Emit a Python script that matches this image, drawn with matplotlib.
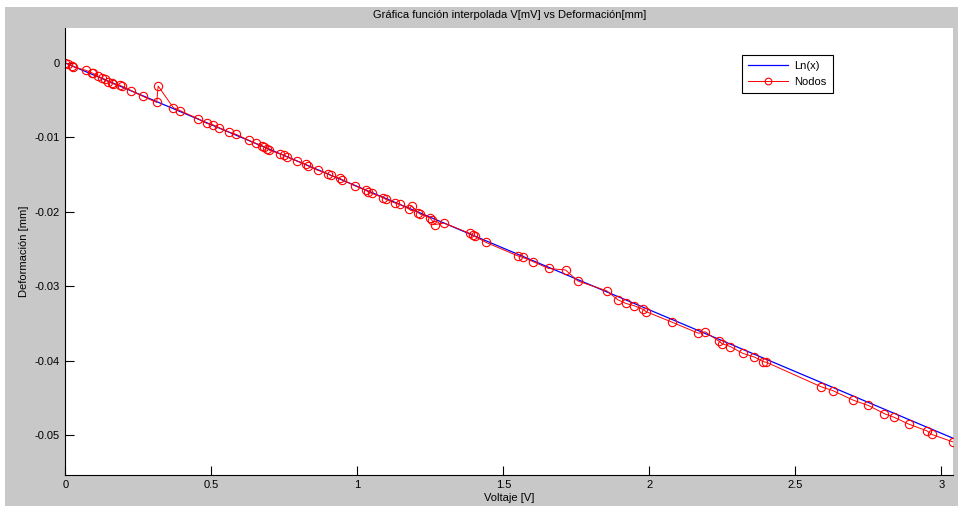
import matplotlib
matplotlib.use("Agg")
import matplotlib.pyplot as plt
import numpy as np
from matplotlib.patches import Rectangle

plt.rcParams['font.family'] = ['Liberation Sans', 'DejaVu Sans']
plt.rcParams['axes.unicode_minus'] = False

# interpolated function Ln(x)
ln_v = np.array([0.0, 3.04])
ln_d = np.array([0.0, -0.0504])

# nodes: voltaje [V]
nodos_v = np.array([0.000, 0.009, 0.023, 0.028, 0.071, 0.090, 0.095, 0.113, 0.125, 0.136,
                    0.147, 0.159, 0.165, 0.187, 0.193, 0.225, 0.267, 0.313, 0.318, 0.370,
                    0.393, 0.455, 0.484, 0.505, 0.527, 0.562, 0.586, 0.629, 0.652, 0.673,
                    0.682, 0.692, 0.698, 0.735, 0.750, 0.758, 0.795, 0.823, 0.830, 0.864,
                    0.901, 0.909, 0.941, 0.949, 0.992, 1.029, 1.038, 1.049, 1.089, 1.097,
                    1.129, 1.146, 1.177, 1.186, 1.209, 1.215, 1.249, 1.255, 1.266, 1.297,
                    1.386, 1.395, 1.403, 1.441, 1.549, 1.566, 1.603, 1.655, 1.713, 1.756,
                    1.854, 1.892, 1.920, 1.948, 1.979, 1.989, 2.077, 2.168, 2.191, 2.240,
                    2.249, 2.278, 2.320, 2.360, 2.389, 2.401, 2.589, 2.628, 2.699, 2.750,
                    2.805, 2.839, 2.888, 2.950, 2.968, 3.040])
# nodes: deformacion [mm]
nodos_d = np.array([0.0000, -0.0001, -0.0004, -0.0005, -0.0010, -0.0013, -0.0014, -0.0018, -0.0020, -0.0022,
                    -0.0025, -0.0027, -0.0028, -0.0030, -0.0031, -0.0037, -0.0045, -0.0053, -0.0031, -0.0060,
                    -0.0064, -0.0075, -0.0081, -0.0083, -0.0087, -0.0093, -0.0096, -0.0104, -0.0108, -0.0111,
                    -0.0113, -0.0115, -0.0117, -0.0122, -0.0124, -0.0126, -0.0132, -0.0136, -0.0138, -0.0144,
                    -0.0149, -0.0151, -0.0155, -0.0157, -0.0165, -0.0171, -0.0173, -0.0175, -0.0181, -0.0183,
                    -0.0188, -0.0190, -0.0196, -0.0192, -0.0201, -0.0203, -0.0208, -0.0211, -0.0217, -0.0215,
                    -0.0229, -0.0231, -0.0233, -0.0241, -0.0259, -0.0261, -0.0267, -0.0276, -0.0278, -0.0293,
                    -0.0306, -0.0318, -0.0323, -0.0326, -0.0331, -0.0334, -0.0348, -0.0363, -0.0361, -0.0374,
                    -0.0377, -0.0381, -0.0390, -0.0395, -0.0401, -0.0402, -0.0435, -0.0440, -0.0453, -0.0460,
                    -0.0471, -0.0476, -0.0485, -0.0494, -0.0499, -0.0509])

xticks = [0, 0.5, 1, 1.5, 2, 2.5, 3]
yticks = [0, -0.01, -0.02, -0.03, -0.04, -0.05]

fig = plt.figure(figsize=(9.58, 5.08), dpi=100, facecolor='white')
# gray matlab figure background
fig.patches.append(Rectangle((5/958, 2/508), 953/958, 499/508, transform=fig.transFigure,
                             facecolor='#c8c8c8', edgecolor='none', zorder=-10))

ax = fig.add_axes([65.3/958, 33.3/508, 887.7/958, 446.7/508])
ax.plot(ln_v, ln_d, color='#0000ff', lw=0.9, label='Ln(x)')
ax.plot(nodos_v, nodos_d, color='#ff0000', lw=0.7, marker='o', markersize=6,
        markerfacecolor='none', markeredgewidth=0.8, label='Nodos')

ax.set_xlim(0, 3.04)
ax.set_ylim(-0.0553, 0.0047)
ax.set_xticks(xticks)
ax.set_yticks(yticks)
ax.set_xticklabels(['%g' % t for t in xticks])
ax.set_yticklabels(['%g' % t for t in yticks])
ax.tick_params(direction='in', length=6.5, width=0.8, labelsize=8, pad=4)
ax.spines['top'].set_visible(False)
ax.spines['right'].set_visible(False)

ax.set_title('Gráfica función interpolada V[mV] vs Deformación[mm]', fontsize=8, pad=7)
ax.set_xlabel('Voltaje [V]', fontsize=8, labelpad=2)
ax.set_ylabel('Deformación [mm]', fontsize=8, labelpad=4)

leg = ax.legend(loc='upper left', bbox_to_anchor=(0.762, 0.9396), borderaxespad=0, fontsize=8,
                fancybox=False, framealpha=1, edgecolor='black', borderpad=0.55,
                handlelength=3.6, labelspacing=0.55, handletextpad=0.6, markerscale=0.8)
leg.get_frame().set_linewidth(0.8)

fig.savefig('out.png', dpi=100, facecolor=fig.get_facecolor())
